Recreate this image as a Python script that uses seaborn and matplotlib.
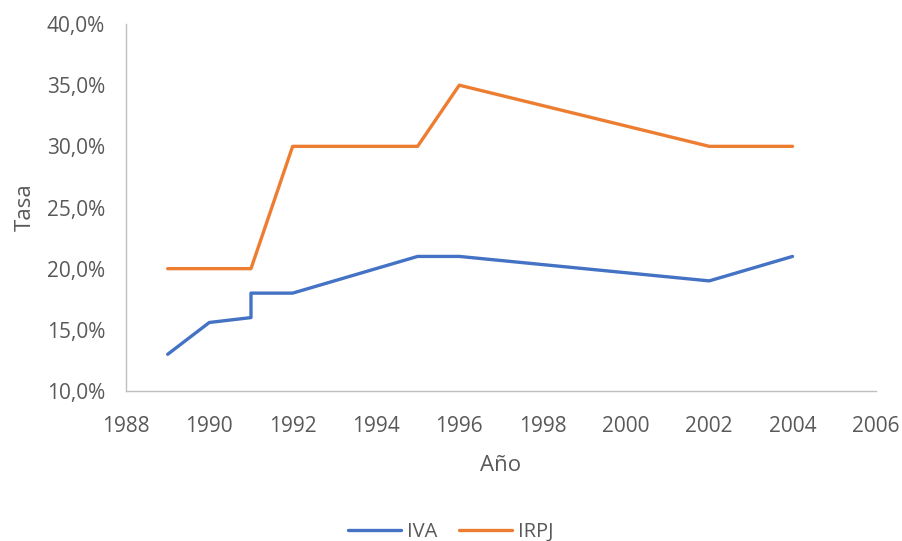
import numpy as np
import pandas as pd
import seaborn as sns
import matplotlib.pyplot as plt
from matplotlib.ticker import FuncFormatter

# data (tax rates in %)
anios_iva = [1989, 1990, 1991, 1991, 1992, 1995, 1996, 2002, 2004]
tasa_iva = [13.0, 15.6, 16.0, 18.0, 18.0, 21.0, 21.0, 19.0, 21.0]
anios_irpj = [1989, 1991, 1992, 1995, 1996, 2002, 2004]
tasa_irpj = [20.0, 20.0, 30.0, 30.0, 35.0, 30.0, 30.0]

df = pd.concat([
    pd.DataFrame({"Año": anios_iva, "Tasa": tasa_iva, "serie": "IVA"}),
    pd.DataFrame({"Año": anios_irpj, "Tasa": tasa_irpj, "serie": "IRPJ"}),
], ignore_index=True)

sns.set_style("white")
plt.rcParams["font.family"] = ["Open Sans", "DejaVu Sans"]

gris = "#595959"
eje = "#BFBFBF"

fig = plt.figure(figsize=(9.02, 5.41), dpi=100)
ax = fig.add_axes([0.1397, 0.2773, 0.8313, 0.6783])

sns.lineplot(data=df, x="Año", y="Tasa", hue="serie", sort=False, estimator=None,
             palette={"IVA": "#4472C4", "IRPJ": "#ED7D31"}, linewidth=2.4, ax=ax)

ax.set_xlim(1988, 2006)
ax.set_ylim(10, 40)
ax.set_xticks(np.arange(1988, 2007, 2))
ax.set_yticks(np.arange(10, 41, 5))
ax.yaxis.set_major_formatter(FuncFormatter(lambda v, p: f"{v:.1f}%".replace(".", ",")))

for s in ["top", "right"]:
    ax.spines[s].set_visible(False)
for s in ["left", "bottom"]:
    ax.spines[s].set_color(eje)
    ax.spines[s].set_linewidth(1.0)

ax.tick_params(axis="both", which="major", direction="out", length=5, width=1,
               color=eje, labelcolor=gris, labelsize=15, pad=10)
ax.tick_params(axis="x", pad=13)
ax.set_xlabel("Año", fontsize=16, color=gris, labelpad=13)
ax.set_ylabel("Tasa", fontsize=16, color=gris, labelpad=8)

handles, labels = ax.get_legend_handles_labels()
ax.get_legend().remove()
fig.legend(handles, labels, loc="lower center", bbox_to_anchor=(0.5, -0.035), ncol=2,
           frameon=False, fontsize=14.5, labelcolor=gris, handlelength=2.65,
           columnspacing=1.05, handletextpad=0.3)

fig.savefig("out.png", dpi=100)
